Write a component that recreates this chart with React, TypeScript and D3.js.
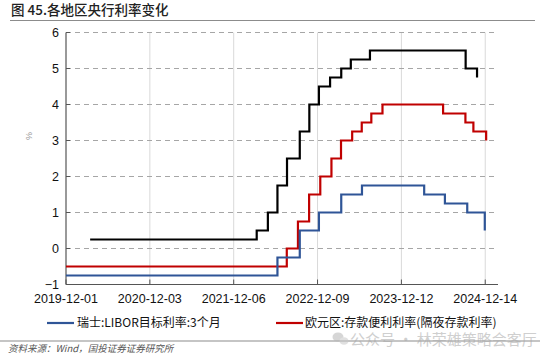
import React from 'react';
import * as d3 from 'd3';

const xTickLabels = ['2019-12-01', '2020-12-03', '2021-12-06', '2022-12-09', '2023-12-12', '2024-12-14'];
const yTicks = [-1, 0, 1, 2, 3, 4, 5, 6];

const swissDates = ['2019-12-01', '2022-06-16', '2022-09-22', '2022-12-15', '2023-03-23', '2023-06-22', '2024-03-21', '2024-06-20', '2024-09-26', '2024-12-12'];
const swissRates = [-0.75, -0.25, 0.5, 1.0, 1.5, 1.75, 1.5, 1.25, 1.0, 0.5];

const euroDates = ['2019-12-01', '2022-07-27', '2022-09-14', '2022-11-02', '2022-12-21', '2023-02-08', '2023-03-22', '2023-05-10', '2023-06-21', '2023-08-02', '2023-09-20', '2024-06-12', '2024-09-18', '2024-10-23', '2024-12-18'];
const euroRates = [-0.5, 0, 0.75, 1.5, 2.0, 2.5, 3.0, 3.25, 3.5, 3.75, 4.0, 3.75, 3.5, 3.25, 3.0];

const usDates = ['2020-03-16', '2022-03-17', '2022-05-05', '2022-06-16', '2022-07-28', '2022-09-22', '2022-11-03', '2022-12-15', '2023-02-02', '2023-03-23', '2023-05-04', '2023-07-27', '2024-09-19', '2024-11-08'];
const usRates = [0.25, 0.5, 1.0, 1.75, 2.5, 3.25, 4.0, 4.5, 4.75, 5.0, 5.25, 5.5, 5.0, 4.75];

const seriesNames = ['瑞士:LIBOR目标利率:3个月', '欧元区:存款便利利率(隔夜存款利率)'];

const parse = d3.utcParse('%Y-%m-%d');

const W = 550;
const H = 357;
const left = 66;
const right = 498;
const top = 32.5;
const bottom = 284.5;

export default function App() {
  const x = d3.scaleUtc().domain([parse('2019-12-01')!, parse('2025-02-08')!]).range([left, right]);
  const y = d3.scaleLinear().domain([-1, 6]).range([bottom, top]);

  const mk = (dates: string[], vals: number[]) =>
    d3
      .line<number>()
      .x((_, i) => x(parse(dates[i])!))
      .y((v) => y(v))
      .curve(d3.curveStepAfter)(vals) || '';

  const cjk = '"Noto Sans CJK SC", "Liberation Sans", sans-serif';
  const num = '"Liberation Sans", Arial, sans-serif';

  return (
    <svg width={W} height={H} style={{ position: 'absolute', left: 0, top: 0, background: '#fff' }}>
      <rect x={0} y={0} width={W} height={H} fill="#fff" />
      {/* title */}
      <text x={11} y={15} fontFamily={cjk} fontSize={13.5} fontWeight={500} fill="#222">
        图 45.各地区央行利率变化
      </text>
      <line x1={10} x2={535} y1={20.5} y2={20.5} stroke="#8c8c8c" strokeWidth={1.2} />

      {/* vertical grid */}
      {xTickLabels.slice(1).map((t) => (
        <line key={'vg' + t} x1={x(parse(t)!)} x2={x(parse(t)!)} y1={top} y2={bottom} stroke="#d9d9d9" strokeWidth={1} />
      ))}
      {/* horizontal dashed grid */}
      {yTicks.slice(1).map((v) => (
        <line key={'hg' + v} x1={left} x2={right - 3} y1={y(v)} y2={y(v)} stroke="#a6a6a6" strokeWidth={1} strokeDasharray="5,4" />
      ))}

      {/* axes */}
      <line x1={left} x2={left} y1={top} y2={bottom} stroke="#555" strokeWidth={1.2} />
      <line x1={left} x2={right} y1={bottom} y2={bottom} stroke="#555" strokeWidth={1.2} />
      {yTicks.map((v) => (
        <line key={'yt' + v} x1={left} x2={left + 4} y1={y(v)} y2={y(v)} stroke="#555" strokeWidth={1} />
      ))}
      {xTickLabels.map((t) => (
        <line key={'xt' + t} x1={x(parse(t)!)} x2={x(parse(t)!)} y1={bottom} y2={bottom - 5} stroke="#555" strokeWidth={1} />
      ))}
      {yTicks.map((v) => (
        <text key={'yl' + v} x={59} y={y(v) + 4.5} textAnchor="end" fontFamily={num} fontSize={12.5} fill="#111">
          {v < 0 ? '−' + Math.abs(v) : String(v)}
        </text>
      ))}
      {xTickLabels.map((t) => (
        <text key={'xl' + t} x={x(parse(t)!)} y={303} textAnchor="middle" fontFamily={num} fontSize={12.5} fill="#111">
          {t}
        </text>
      ))}
      <text x={29} y={139} fontFamily={num} fontSize={9} fill="#999" textAnchor="middle" transform="rotate(90,29,136)">
        %
      </text>

      {/* series */}
      <path d={mk(usDates, usRates)} fill="none" stroke="#000" strokeWidth={2.2} />
      <path d={mk(euroDates, euroRates)} fill="none" stroke="#C00000" strokeWidth={2.2} />
      <path d={mk(swissDates, swissRates)} fill="none" stroke="#2F5597" strokeWidth={2.2} />

      {/* legend */}
      <line x1={47} x2={74} y1={323} y2={323} stroke="#2F5597" strokeWidth={2.2} />
      <text x={77} y={327} fontFamily={cjk} fontSize={12} fill="#111">
        {seriesNames[0]}
      </text>
      <line x1={276} x2={303} y1={323} y2={323} stroke="#C00000" strokeWidth={2.2} />
      <text x={305} y={327} fontFamily={cjk} fontSize={12} fill="#111">
        {seriesNames[1]}
      </text>

      {/* bottom rule */}
      <line x1={0} x2={540} y1={341} y2={341} stroke="#8c8c8c" strokeWidth={1.2} />

      {/* watermark */}
      <g opacity={0.55}>
        <ellipse cx={338} cy={337} rx={5.5} ry={4.5} fill="#b5b5b5" />
        <ellipse cx={344} cy={341} rx={4.5} ry={3.8} fill="#c8c8c8" />
        <text x={350} y={345} fontFamily={cjk} fontSize={15} fill="#a8a8a8">
          公众号 · 林荣雄策略会客厅
        </text>
      </g>

      {/* source */}
      <text x={8} y={352} fontFamily={cjk} fontSize={9.5} fontStyle="italic" fill="#555">
        资料来源：Wind，国投证券证券研究所
      </text>
    </svg>
  );
}
